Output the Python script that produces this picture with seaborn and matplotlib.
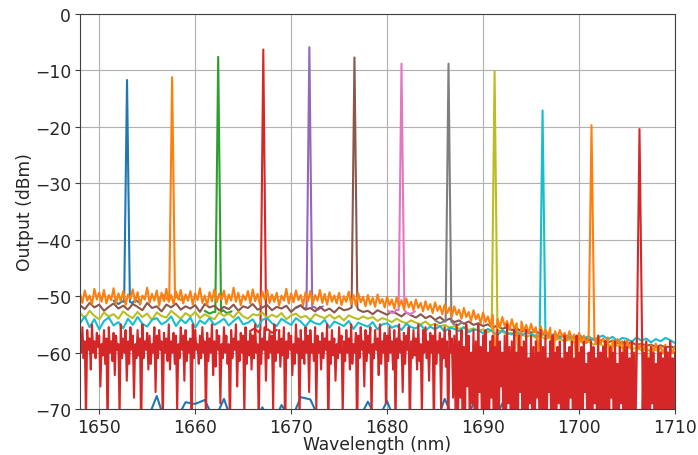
import numpy as np
import pandas as pd
import seaborn as sns
import matplotlib
matplotlib.use("Agg")
import matplotlib.pyplot as plt

# channel peaks (nm, dBm)
peak_wl = [1652.9, 1657.6, 1662.4, 1667.1, 1671.9, 1676.6, 1681.5, 1686.4, 1691.2, 1696.2, 1701.3, 1706.3]
peak_dbm = [-11.7, -11.2, -7.6, -6.3, -5.9, -7.7, -8.8, -8.8, -10.1, -17.1, -19.7, -20.4]
# floor level at the foot of each peak
peak_base = [-51.0, -50.3, -52.8, -56.0, -52.0, -52.0, -52.5, -54.5, -56.0, -57.0, -57.5, -62.0]

channels = ["ch1", "ch2", "ch3", "ch4", "ch5", "ch6", "ch7", "ch8", "ch9", "ch10", "ch11", "ch12"]
line_colors = ["#1f77b4", "#ff7f0e", "#2ca02c", "#d62728", "#9467bd", "#8c564b",
               "#e377c2", "#7f7f7f", "#bcbd22", "#17becf", "#ff7f0e", "#d62728"]

# channels buried under the others: only the floor next to their peak shows
wl_ch1 = [1651.5, 1652.0, 1652.4, 1653.4, 1653.8, 1654.3]
floor_ch1 = [-50.8, -51.4, -50.9, -51.2, -50.7, -51.3]
wl_ch2 = [1656.2, 1656.7, 1657.1, 1658.1, 1658.5, 1659.0]
floor_ch2 = [-50.4, -49.8, -50.6, -50.1, -50.7, -50.2]
wl_ch3 = [1661.0, 1661.5, 1661.9, 1662.9, 1663.3, 1663.8]
floor_ch3 = [-52.6, -53.1, -52.8, -52.5, -53.0, -52.7]
wl_ch4 = [1665.7, 1666.2, 1666.6, 1667.6, 1668.0, 1668.5]
floor_ch4 = [-56.2, -55.7, -56.4, -55.9, -56.5, -56.0]
wl_ch5 = [1670.5, 1671.0, 1671.4, 1672.4, 1672.8, 1673.3]
floor_ch5 = [-52.1, -51.7, -52.3, -51.9, -52.4, -51.8]
wl_ch7 = [1680.1, 1680.6, 1681.0, 1682.0, 1682.4, 1682.9]
floor_ch7 = [-52.6, -53.0, -52.4, -52.9, -53.2, -52.7]
wl_ch8 = [1685.0, 1685.5, 1685.9, 1686.9, 1687.3, 1687.8]
floor_ch8 = [-54.3, -54.8, -54.5, -54.9, -55.2, -54.7]

# 0.5 nm floors (1648..1710)
wl_fine = np.arange(1648, 1710.01, 0.5)
floor_ch6 = [-51.6, -52.3, -51.2, -52.0, -51.5, -52.6, -51.9, -51.3, -52.2, -51.7,
             -52.4, -51.4, -51.9, -52.5, -51.2, -52.1, -51.8, -52.7, -51.5, -52.0,
             -51.3, -52.4, -51.8, -52.2, -51.6, -52.8, -51.4, -52.0, -51.7, -52.5,
             -51.9, -52.3, -51.5, -52.6, -51.8, -52.1, -51.4, -52.4, -52.0, -51.6,
             -52.5, -51.9, -52.2, -51.7, -52.8, -52.0, -51.6, -52.4, -52.1, -52.7,
             -51.9, -52.6, -52.2, -52.9, -52.0, -52.5, -52.3, -53.0, -52.4, -52.8,
             -52.6, -53.2, -52.5, -52.9, -53.3, -52.7, -53.1, -53.6, -52.9, -53.4,
             -53.8, -53.2, -53.9, -53.5, -54.2, -53.7, -54.4, -54.0, -54.6, -54.3,
             -54.9, -54.5, -55.1, -54.8, -55.3, -55.0, -55.6, -55.2, -55.8, -55.5,
             -56.0, -55.7, -56.3, -56.0, -56.5, -56.2, -56.8, -56.4, -57.0, -56.7,
             -57.2, -56.9, -57.4, -57.1, -57.6, -57.3, -57.8, -57.5, -58.0, -57.7,
             -58.2, -57.9, -58.3, -58.1, -58.5, -58.2, -58.7, -58.4, -58.8, -58.6,
             -59.0, -58.7, -59.1, -58.9, -59.2]
floor_ch9 = [-53.0, -53.9, -52.6, -53.5, -54.1, -52.9, -53.6, -53.2, -54.0, -52.7,
             -53.4, -53.9, -52.8, -53.7, -53.1, -54.2, -52.9, -53.5, -53.8, -52.6,
             -53.3, -54.0, -53.0, -53.6, -52.8, -53.9, -53.2, -53.7, -54.1, -52.9,
             -53.5, -53.1, -53.8, -52.7, -53.6, -54.0, -53.2, -53.4, -52.9, -53.9,
             -53.3, -53.7, -53.0, -54.1, -53.4, -53.1, -53.8, -53.5, -54.2, -53.2,
             -53.6, -53.9, -53.3, -54.0, -53.5, -54.3, -53.4, -53.8, -54.1, -53.6,
             -54.0, -53.7, -54.4, -53.9, -54.2, -54.6, -54.0, -54.5, -54.8, -54.3,
             -54.7, -55.0, -54.5, -55.2, -54.9, -55.4, -55.1, -55.6, -55.3, -55.8,
             -55.5, -56.0, -55.7, -56.2, -55.9, -56.4, -56.1, -56.6, -56.3, -56.8,
             -56.5, -57.0, -56.7, -57.2, -56.9, -57.4, -57.1, -57.6, -57.3, -57.8,
             -57.5, -58.0, -57.7, -58.2, -57.9, -58.4, -58.1, -58.6, -58.3, -58.8,
             -58.5, -59.0, -58.7, -59.2, -58.9, -59.4, -59.1, -59.6, -59.3, -59.8,
             -59.5, -60.0, -59.7, -60.2, -59.9]
floor_ch10 = [-54.8, -53.6, -55.5, -54.1, -55.9, -54.4, -53.8, -55.2, -54.6, -55.7,
              -54.0, -55.1, -53.7, -54.9, -55.4, -54.2, -53.9, -55.0, -54.5, -53.6,
              -55.3, -54.1, -54.8, -53.8, -55.6, -54.3, -54.9, -53.9, -55.1, -54.6,
              -54.0, -55.2, -54.4, -53.7, -55.0, -54.7, -54.1, -55.5, -54.2, -53.9,
              -54.8, -55.3, -54.0, -54.6, -55.1, -53.9, -54.5, -55.4, -54.3, -54.8,
              -55.0, -54.2, -55.6, -54.5, -54.9, -55.3, -54.4, -55.8, -54.7, -55.1,
              -55.4, -54.6, -55.9, -55.0, -54.8, -55.6, -55.2, -56.0, -54.9, -55.5,
              -55.7, -55.1, -56.1, -55.4, -55.9, -55.3, -56.3, -55.6, -55.8, -56.2,
              -55.5, -56.4, -55.9, -56.0, -56.6, -55.8, -56.3, -56.9, -56.1, -56.5,
              -56.8, -56.2, -57.0, -56.4, -56.7, -57.1, -56.5, -57.3, -56.8, -57.0,
              -57.4, -56.9, -57.2, -57.6, -56.8, -57.5, -57.1, -57.8, -57.3, -57.0,
              -57.7, -57.2, -58.0, -57.4, -57.6, -58.1, -57.3, -57.9, -57.5, -58.2,
              -57.6, -58.0, -57.4, -57.8, -58.3]

# 0.25 nm floor of the top orange channel (1648..1710)
wl_quarter = np.arange(1648, 1710.01, 0.25)
floor_ch11 = [-49.6, -51.2, -49.0, -50.8, -49.9, -51.5, -48.7, -50.6, -49.4, -51.0, -48.9, -51.3,
              -49.8, -50.7, -48.6, -51.4, -49.5, -50.9, -49.1, -51.6, -49.7, -50.5, -48.8, -51.1,
              -49.3, -51.5, -49.9, -50.6, -48.5, -51.2, -49.6, -50.8, -49.0, -51.7, -49.4, -50.9,
              -48.7, -51.0, -49.8, -51.4, -49.2, -50.6, -48.9, -51.3, -49.7, -50.8, -49.1, -51.5,
              -49.5, -50.7, -48.6, -51.2, -49.9, -51.6, -49.3, -50.9, -48.8, -51.1, -49.6, -50.6,
              -49.0, -51.4, -49.7, -50.8, -48.5, -51.0, -49.4, -51.6, -49.8, -50.7, -49.1, -51.3,
              -48.8, -50.9, -49.6, -51.5, -49.2, -50.6, -48.9, -51.2, -49.7, -51.0, -49.4, -51.7,
              -49.9, -50.8, -48.7, -51.3, -49.5, -51.1, -49.0, -50.7, -49.8, -51.6, -49.3, -50.9,
              -49.1, -51.4, -49.8, -50.8, -48.9, -51.2, -49.6, -51.5, -49.3, -51.0, -49.9, -51.3,
              -49.4, -51.6, -50.0, -51.0, -49.2, -51.4, -49.8, -51.7, -49.5, -51.1, -50.1, -51.8,
              -49.8, -51.5, -50.3, -51.9, -49.7, -51.3, -50.5, -52.0, -50.1, -51.6, -50.6, -52.2,
              -50.2, -51.8, -50.7, -52.3, -50.4, -52.0, -51.0, -52.5, -50.6, -52.1, -51.2, -52.7,
              -50.9, -52.4, -51.4, -53.0, -51.1, -52.6, -51.7, -53.2, -51.5, -53.0, -52.0, -53.6,
              -51.8, -53.3, -52.4, -54.0, -52.1, -53.7, -52.8, -54.4, -52.5, -54.1, -53.2, -54.8,
              -52.9, -54.6, -53.6, -55.2, -53.3, -61.0, -54.0, -55.6, -53.7, -55.3, -54.4, -56.0,
              -54.1, -55.8, -54.8, -64.0, -54.5, -56.2, -55.1, -56.6, -54.9, -56.4, -55.5, -60.0,
              -55.3, -56.9, -55.9, -57.3, -55.6, -66.0, -56.2, -57.5, -56.0, -57.2, -56.5, -57.8,
              -56.2, -57.6, -56.8, -63.0, -56.5, -58.0, -57.0, -58.3, -56.8, -69.0, -57.2, -58.5,
              -57.0, -58.4, -57.5, -58.8, -57.3, -65.0, -57.8, -59.0, -57.6, -58.7, -58.0, -62.0,
              -57.8, -59.1, -58.3, -67.0, -58.0, -59.3, -58.5, -59.6, -58.2, -64.0, -58.7, -59.8,
              -58.4, -59.7, -58.9, -60.2, -58.6, -66.0, -59.0, -60.1, -58.8]

# noisiest channel, 0.125 nm steps (1648..1710)
wl_noisy = np.arange(1648, 1710.001, 0.125)
floor_ch12 = [
    -57, -60, -55.5, -61, -58, -72, -56, -59.5, -57.5, -63, -55, -60, -58, -61, -56.5, -59, -57, -66, -58.5, -60.5, -56, -62, -57.5, -74,
    -55.5, -60, -58, -61.5, -56.5, -64, -57, -59.5, -58.5, -71, -55, -61, -57.5, -60, -56, -65, -58, -62, -55.5, -59.5, -57, -68, -58.5, -61,
    -56, -60.5, -57.5, -75, -55, -61, -58, -59.5, -56.5, -63, -57, -62, -58.5, -60, -55.5, -67, -57, -61, -56, -59.5, -58, -73, -56.5, -60,
    -57.5, -61.5, -55, -63, -58, -60, -56.5, -62, -57, -70, -58.5, -61, -55.5, -59.5, -57, -65, -56, -61.5, -58, -60, -57.5, -76, -55, -61,
    -56, -59.5, -58.5, -62, -57, -61, -55.5, -60, -58, -72, -56.5, -61.5, -57.5, -60, -55, -64, -58, -62.5, -56, -59.5, -57, -69, -58.5, -61,
    -55.5, -60, -57, -62, -58.5, -74, -56, -61, -57.5, -59.5, -55, -66, -58, -61.5, -56.5, -60, -57, -71, -55.5, -62, -58, -60.5, -56.5, -63,
    -57, -61, -55, -60, -58.5, -73, -56, -62, -57.5, -59.5, -55.5, -65, -58, -61, -56.5, -60, -57, -70, -55, -61.5, -58, -60, -56, -62.5,
    -57.5, -60.5, -55.5, -75, -58, -61, -56.5, -59.5, -57, -64, -58.5, -62, -55, -60, -57.5, -72, -56, -61, -58, -62, -55.5, -60, -57, -67,
    -56, -60, -58.5, -61.5, -55.5, -70, -57, -60, -58, -63, -56.5, -61, -57.5, -59.5, -55, -74, -58, -62, -56, -60.5, -57.5, -65, -58.5, -61,
    -55.5, -60, -57, -71, -58, -61.5, -56, -60, -57.5, -63, -55, -62, -58.5, -60, -56.5, -76, -57, -61, -55.5, -59.5, -58, -66, -56, -61.5,
    -57, -60, -55.5, -72, -58.5, -61, -56, -59.5, -57.5, -64, -55, -62, -58, -60, -56.5, -69, -57, -61.5, -55.5, -60, -58, -63, -56, -73,
    -57.5, -61, -55, -60, -58, -67, -56.5, -62, -57, -59.5, -55.5, -75, -58, -61, -56, -60.5, -57.5, -63, -55, -61.5, -58.5, -71, -56, -60,
    -55.5, -61, -58, -65, -56.5, -60, -57, -74, -55, -62, -58, -60, -56.5, -70, -57.5, -61, -55.5, -62.5, -58, -76, -56, -60, -57.5, -68,
    -57, -70, -55, -74, -58, -68, -56, -77, -59, -71, -55, -66, -57, -75, -60, -69,
    -56, -73, -58, -78, -55, -67, -59, -72, -57, -76, -56, -70, -60, -74, -58, -68,
    -57, -77, -59, -71, -56, -75, -58, -66, -60, -73, -57, -78, -55, -69, -59, -72,
    -58, -76, -56, -70, -60, -74, -57, -67, -59, -78, -58, -71, -56, -75, -61, -69,
    -57, -73, -59, -77, -58, -68, -60, -72, -56, -76, -59, -70, -57, -74, -61, -67,
    -58, -78, -57, -71, -60, -75, -59, -69, -58, -73, -61, -77, -57, -70, -60, -74,
    -59, -68, -58, -76, -61, -72, -57, -78, -60, -70, -59, -74, -58, -67, -62, -75,
    -60, -71, -58, -77, -59, -69, -61, -73, -57, -76, -60, -70, -59, -78, -58, -72,
    -61, -74, -59, -68, -60, -77, -58, -71, -62, -75, -59, -69, -60, -73, -58, -78,
    -59, -70, -61, -76, -58, -72, -60, -74, -62, -68, -59, -77, -61, -71, -60, -75,
    -58, -73, -61, -78, -59, -69, -60, -76, -62, -71, -59, -74, -60, -70, -61, -77,
    -59, -72, -60, -75, -58, -70, -61, -76, -60]

# reference trace near the bottom of the range (1 nm steps)
wl_ref = np.arange(1648, 1711, 1)
ref_dbm = [-72, -73, -72, -74, -73, -72, -73, -72, -67.7, -73, -72, -68.8, -69.1, -68.4, -72, -68.2,
           -73, -72, -73, -69.7, -73, -69.3, -72, -67.9, -68.3, -72, -73, -72, -73, -72, -68.7, -72,
           -68.6, -73, -72, -73, -72, -73, -68.2, -72, -73, -69.0, -72, -73, -69.0, -72, -73, -72,
           -73, -72, -73, -72, -73, -72, -73, -72, -73, -72, -73, -72, -73, -72, -73]

floors = {
    "ch1": (wl_ch1, floor_ch1), "ch2": (wl_ch2, floor_ch2), "ch3": (wl_ch3, floor_ch3),
    "ch4": (wl_ch4, floor_ch4), "ch5": (wl_ch5, floor_ch5), "ch6": (wl_fine, floor_ch6),
    "ch7": (wl_ch7, floor_ch7), "ch8": (wl_ch8, floor_ch8), "ch9": (wl_fine, floor_ch9),
    "ch10": (wl_fine, floor_ch10), "ch11": (wl_quarter, floor_ch11), "ch12": (wl_noisy, floor_ch12),
}

# build long table: floor with a narrow peak on top
frames = []
half_width = 0.3
for i, ch in enumerate(channels):
    wl, db = floors[ch]
    wl = np.asarray(wl, dtype=float)
    db = np.asarray(db, dtype=float)
    keep = np.abs(wl - peak_wl[i]) > half_width
    wl_all = np.concatenate([wl[keep], [peak_wl[i] - half_width, peak_wl[i], peak_wl[i] + half_width]])
    db_all = np.concatenate([db[keep], [peak_base[i], peak_dbm[i], peak_base[i]]])
    frames.append(pd.DataFrame({"wl": wl_all, "dbm": db_all, "line": ch}))
frames.append(pd.DataFrame({"wl": wl_ref, "dbm": ref_dbm, "line": "ref"}))
df = pd.concat(frames, ignore_index=True)

# draw order: ch1..ch10, reference, ch11, ch12 (last one on top)
order = channels[:10] + ["ref"] + channels[10:]
palette = dict(zip(channels, line_colors))
palette["ref"] = "#1f77b4"

sns.set_style("ticks")
plt.rcParams["font.family"] = ["DejaVu Sans"]

fig = plt.figure(figsize=(6.98, 4.56), dpi=100)
ax = fig.add_axes([80 / 698, 46 / 456, 595 / 698, 395 / 456])

sns.lineplot(data=df, x="wl", y="dbm", hue="line", hue_order=order, palette=palette,
             estimator=None, sort=True, legend=False, linewidth=1.5, ax=ax)

ax.set_xlim(1648, 1710)
ax.set_ylim(-70, 0)
ax.set_xticks(range(1650, 1711, 10))
ax.set_yticks(range(-70, 1, 10))
ax.grid(True, color="#b0b0b0", linewidth=0.8)
ax.set_axisbelow(True)
for s in ax.spines.values():
    s.set_color("0.25")
    s.set_linewidth(0.8)
ax.tick_params(labelsize=12.3, length=3.5, width=0.8, pad=3.0, color="0.25")
ax.set_xlabel("Wavelength (nm)", fontsize=12.3, labelpad=-0.5)
ax.set_ylabel("Output (dBm)", fontsize=12.3, labelpad=0.5)

fig.savefig("out.png", dpi=100)
